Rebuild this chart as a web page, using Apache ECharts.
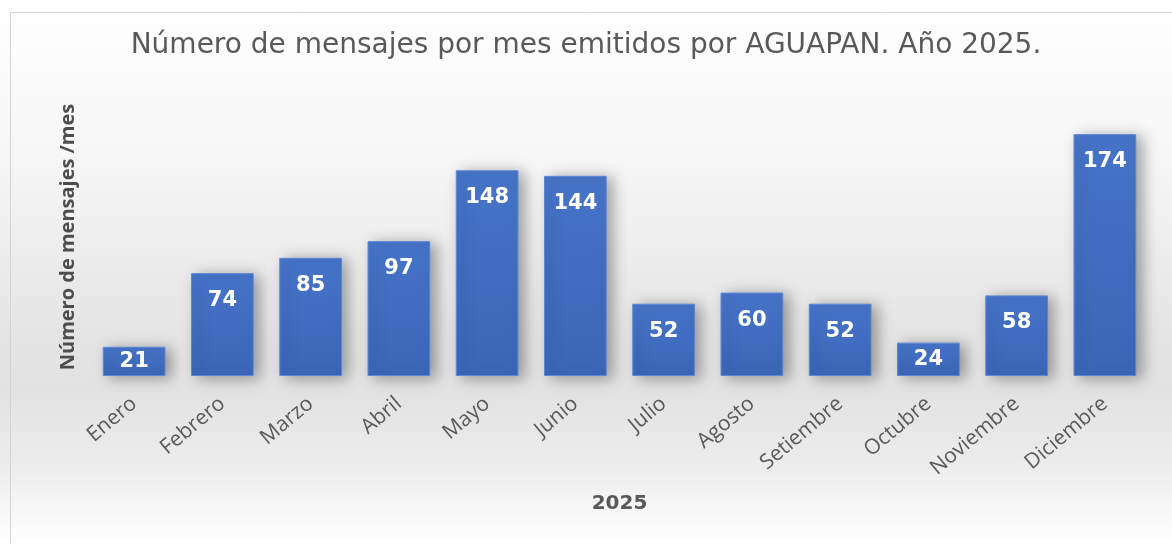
<!DOCTYPE html>
<html><head><meta charset="utf-8">
<script src="https://cdn.jsdelivr.net/npm/echarts@6/dist/echarts.min.js"></script>
<style>html,body{margin:0;padding:0;background:#fff}#c{width:1172px;height:544px}</style>
</head><body><div id="c"></div>
<script>
var titleText = 'Número de mensajes por mes emitidos por AGUAPAN. Año 2025.';
var yAxisName = 'Número de mensajes /mes';
var xAxisName = '2025';
var months = ['Enero','Febrero','Marzo','Abril','Mayo','Junio','Julio','Agosto','Setiembre','Octubre','Noviembre','Diciembre'];
var messages = [21, 74, 85, 97, 148, 144, 52, 60, 52, 24, 58, 174];

var chart = echarts.init(document.getElementById('c'), null, {renderer:'canvas'});
var data = messages.map(function(v){
  var d = {value: v};
  if (v < 30) d.label = {position: 'inside', distance: 0};
  return d;
});
chart.setOption({
  animation: false,
  backgroundColor: {type:'linear', x:0, y:0, x2:0, y2:1, colorStops:[
    {offset:0, color:'#ffffff'}, {offset:0.3, color:'#f6f6f6'}, {offset:0.62, color:'#e4e4e4'},
    {offset:0.72, color:'#e2e2e2'}, {offset:0.86, color:'#ededed'}, {offset:1, color:'#ffffff'}]},
  graphic: [{type:'rect', shape:{x:10.5, y:12.5, width:1200, height:600}, style:{fill:'none', stroke:'#d4d4d4', lineWidth:1}, silent:true}],
  title: {text: titleText, left: 'center', top: 27,
    textStyle: {fontFamily: 'DejaVu Sans', fontWeight: 'normal', fontSize: 28, color: '#595959'}},
  grid: {left: 90, right: 23, top: 98, bottom: 168, containLabel: false},
  xAxis: {type:'category', data: months, name: xAxisName, nameLocation:'middle', nameGap: 118,
    nameTextStyle: {fontFamily:'DejaVu Sans', fontWeight:'bold', fontSize: 20, color:'#595959'},
    axisLine:{show:false}, axisTick:{show:false},
    axisLabel:{rotate:40, interval:0, margin:25, fontFamily:'Open Sans', fontSize:21, color:'#595959'}},
  yAxis: {type:'value', min:0, max:200, name: yAxisName, nameLocation:'middle', nameGap: 12,
    nameTextStyle: {fontFamily:'Open Sans', fontWeight:'bold', fontSize: 20, color:'#4d4d4d'},
    axisLine:{show:false}, axisTick:{show:false}, axisLabel:{show:false}, splitLine:{show:false}},
  series: [{type:'bar', data: data, barCategoryGap:'29%',
    itemStyle:{color:{type:'linear', x:0, y:0, x2:0, y2:1, colorStops:[{offset:0,color:'#4674c8'},{offset:1,color:'#3b66b8'}]},
      borderColor:'#5a86d4', borderWidth:1,
      shadowBlur:14, shadowColor:'rgba(0,0,0,0.35)', shadowOffsetX:6, shadowOffsetY:2},
    label:{show:true, position:'insideTop', distance:17, fontFamily:'DejaVu Sans', fontWeight:'bold', fontSize:21, color:'#ffffff'}
  }]
});
</script></body></html>
